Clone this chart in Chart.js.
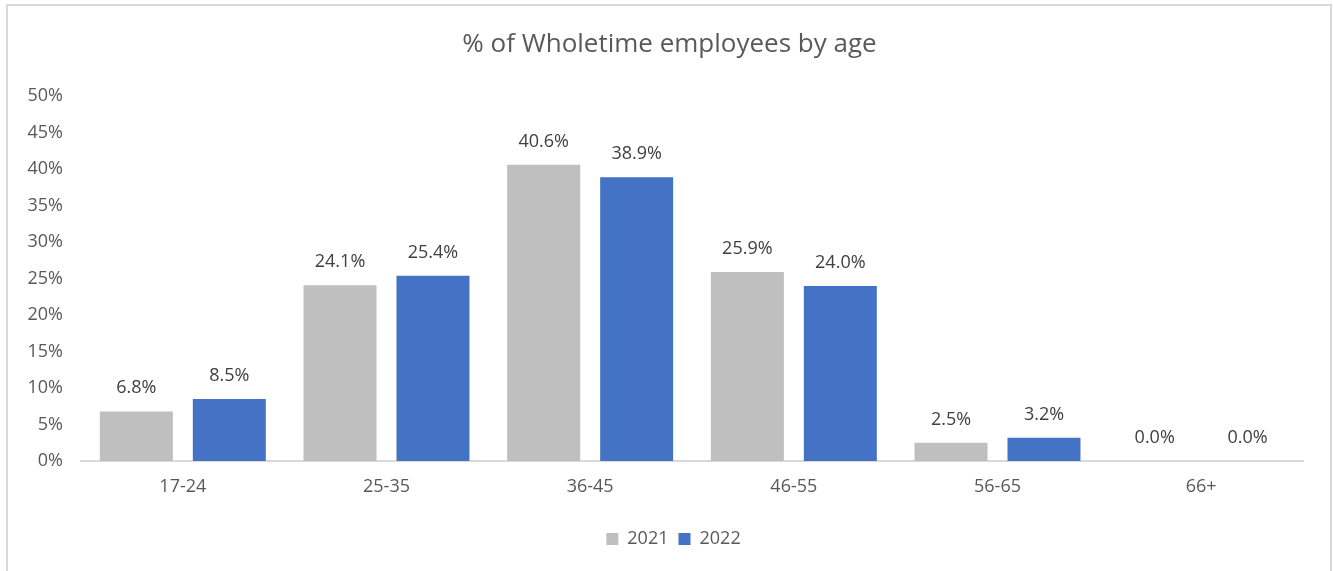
<!DOCTYPE html>
<html>
<head>
<meta charset="utf-8">
<script src="https://cdn.jsdelivr.net/npm/chart.js@4"></script>
<style>
  html, body { margin: 0; padding: 0; background: #fff; }
  #wrap { width: 1333px; height: 571px; position: relative; }
</style>
</head>
<body>
<div id="wrap"><canvas id="ageChart" width="1333" height="571"></canvas></div>
<script>
const ageGroups = ["17-24", "25-35", "36-45", "46-55", "56-65", "66+"]
const pct2021 = [6.8, 24.1, 40.6, 25.9, 2.5, 0.0]
const pct2022 = [8.5, 25.4, 38.9, 24.0, 3.2, 0.0]

const FONT = "'Open Sans', 'Noto Sans', sans-serif"
const TEXT = "#595959"

// outer frame of the chart box
const frame = {
  id: "frame",
  beforeDraw(chart) {
    const ctx = chart.ctx
    ctx.save()
    ctx.strokeStyle = "#d9d9d9"
    ctx.lineWidth = 2
    ctx.strokeRect(7, 5, 1324, 640)
    ctx.restore()
  }
}

// center title and legend on the whole box rather than the padded area
const recenter = {
  id: "recenter",
  afterLayout(chart) {
    chart.titleBlock.left += 8
    chart.titleBlock.right += 8
    chart.legend.left += 12
    chart.legend.right += 12
  }
}

// value labels above each bar
const valueLabels = {
  id: "valueLabels",
  afterDatasetsDraw(chart) {
    const ctx = chart.ctx
    ctx.save()
    ctx.font = "18px " + FONT
    ctx.fillStyle = "#404040"
    ctx.textAlign = "center"
    ctx.textBaseline = "alphabetic"
    chart.data.datasets.forEach((ds, i) => {
      chart.getDatasetMeta(i).data.forEach((bar, j) => {
        ctx.fillText(ds.data[j].toFixed(1) + "%", bar.x, bar.y - 18)
      })
    })
    ctx.restore()
  }
}

new Chart(document.getElementById("ageChart"), {
  type: "bar",
  data: {
    labels: ageGroups,
    datasets: [
      { label: "2021", data: pct2021, backgroundColor: "#bfbfbf" },
      { label: "2022", data: pct2022, backgroundColor: "#4472c4" }
    ]
  },
  plugins: [frame, recenter, valueLabels],
  options: {
    responsive: false,
    animation: false,
    events: [],
    categoryPercentage: 0.913,
    barPercentage: 0.785,
    layout: { padding: { left: 20, right: 30, top: 0, bottom: 13 } },
    plugins: {
      title: {
        display: true,
        text: "% of Wholetime employees by age",
        color: TEXT,
        font: { family: FONT, size: 26, weight: "normal" },
        padding: { top: 29, bottom: 36 }
      },
      legend: {
        position: "bottom",
        labels: {
          color: TEXT,
          font: { family: FONT, size: 18 },
          boxWidth: 12,
          boxHeight: 12,
          padding: 10
        }
      },
      tooltip: { enabled: false }
    },
    scales: {
      x: {
        grid: { display: false },
        border: { color: "#d9d9d9", width: 2 },
        ticks: { color: TEXT, font: { family: FONT, size: 18 }, padding: 7 },
        afterFit: (scale) => { scale.height = 59 }
      },
      y: {
        min: 0,
        max: 50,
        grid: { display: false },
        border: { display: false },
        ticks: {
          stepSize: 5,
          color: TEXT,
          font: { family: FONT, size: 18 },
          padding: 10,
          callback: (v) => v + "%"
        },
        afterFit: (scale) => { scale.width = 61 }
      }
    }
  }
})
</script>
</body>
</html>
